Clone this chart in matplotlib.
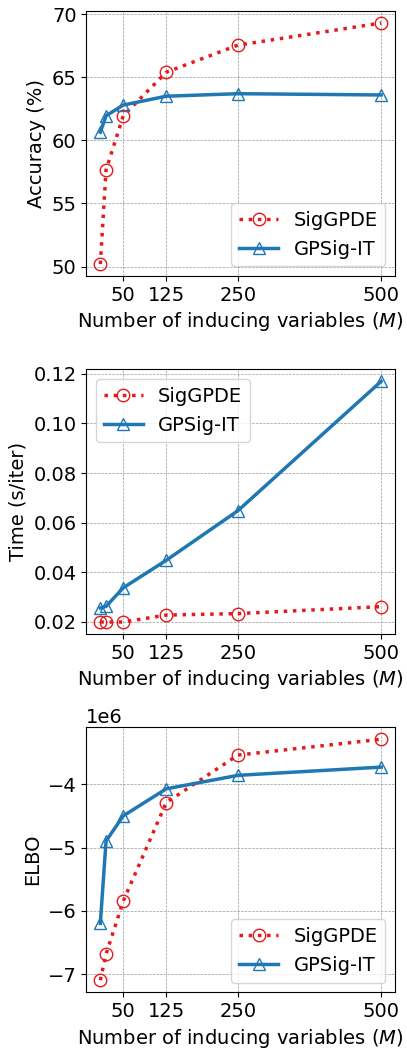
import numpy as np
import matplotlib
matplotlib.use('Agg')
import matplotlib.pyplot as plt

#%%
## data
M = [10, 20, 50, 125, 250, 500]
xticks = [50, 125, 250, 500]

acc_sig = [50.2, 57.65, 61.95, 65.4, 67.55, 69.3]
acc_gp = [60.65, 61.95, 62.8, 63.5, 63.7, 63.6]

time_sig = [0.0199, 0.0199, 0.0199, 0.0227, 0.0233, 0.0261]
time_gp = [0.0256, 0.0262, 0.0337, 0.0448, 0.0648, 0.1170]

elbo_sig = [-7.095e6, -6.684e6, -5.845e6, -4.29e6, -3.54e6, -3.29e6]
elbo_gp = [-6.198e6, -4.896e6, -4.50e6, -4.073e6, -3.86e6, -3.73e6]

#%%
plt.rcParams['font.size'] = 14

fig = plt.figure(figsize=(4.07, 10.48), dpi=100)
ax1 = fig.add_axes([0.212, 0.7366, 0.759, 0.2529])
ax2 = fig.add_axes([0.212, 0.3950, 0.759, 0.2526])
ax3 = fig.add_axes([0.212, 0.0532, 0.759, 0.2529])

red = '#e41a1c'
blue = '#1f77b4'

panels = [
    (ax1, acc_sig, acc_gp, 'Accuracy (%)', 'lower right'),
    (ax2, time_sig, time_gp, 'Time (s/iter)', 'upper left'),
    (ax3, elbo_sig, elbo_gp, 'ELBO', 'lower right'),
]

for ax, sig, gp, ylab, loc in panels:
    ax.plot(M, sig, linestyle=':', linewidth=2.5, color=red, marker='o',
            markersize=9, markerfacecolor='none', markeredgewidth=1.0,
            label='SigGPDE')
    ax.plot(M, gp, linestyle='-', linewidth=2.5, color=blue, marker='^',
            markersize=9, markerfacecolor='none', markeredgewidth=1.0,
            label='GPSig-IT')
    ax.set_xticks(xticks)
    ax.set_xlabel('Number of inducing variables ($M$)')
    ax.set_ylabel(ylab)
    ax.grid(True, linestyle='--', linewidth=0.5, color='gray', alpha=0.8)
    ax.legend(loc=loc)

ax1.set_yticks([50, 55, 60, 65, 70])
ax2.set_yticks([0.02, 0.04, 0.06, 0.08, 0.10, 0.12])

fig.savefig('out.png', dpi=100)
